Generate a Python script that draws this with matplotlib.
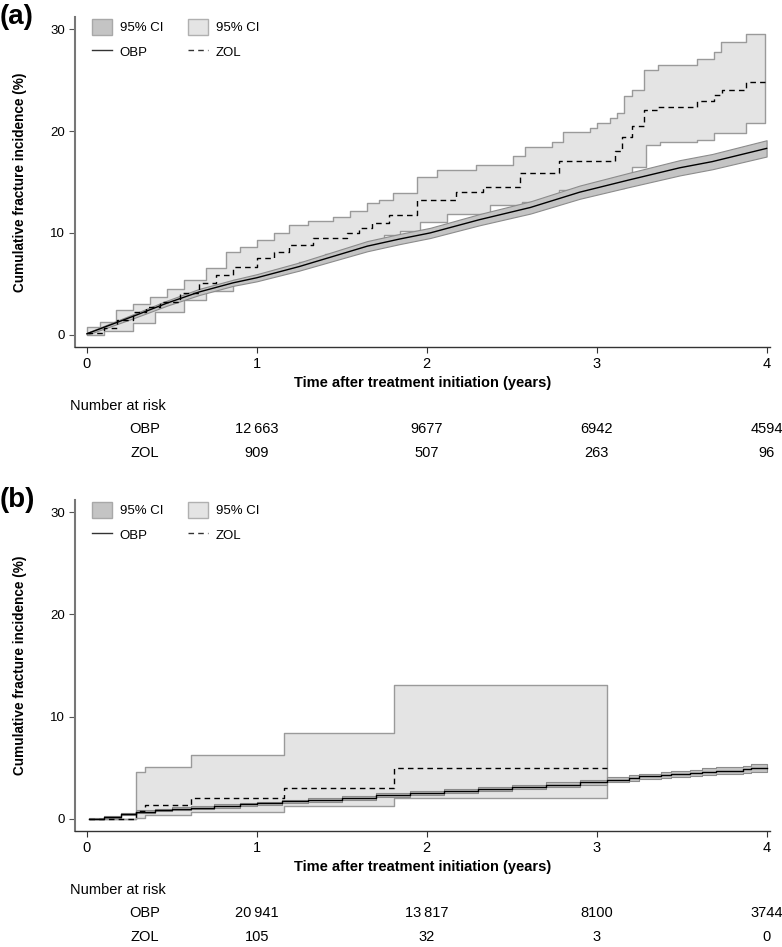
import numpy as np
import matplotlib
matplotlib.use("Agg")
import matplotlib.pyplot as plt
from matplotlib.patches import Patch
from matplotlib.lines import Line2D

# ---- panel (a) data ----
obp_a_t = [0, 0.27, 0.47, 0.66, 0.86, 1.0, 1.25, 1.45, 1.65, 1.84, 2.02, 2.31, 2.61, 2.9, 3.19, 3.49, 3.68, 4.0]
obp_a = [0.1, 1.8, 3.1, 4.2, 5.1, 5.6, 6.7, 7.7, 8.7, 9.4, 10.0, 11.3, 12.5, 14.0, 15.2, 16.4, 17.0, 18.3]
obp_a_lo = [0.0, 1.6, 2.85, 3.9, 4.8, 5.25, 6.3, 7.25, 8.2, 8.9, 9.5, 10.75, 11.9, 13.35, 14.5, 15.65, 16.25, 17.5]
obp_a_hi = [0.2, 2.0, 3.35, 4.5, 5.4, 5.95, 7.1, 8.15, 9.2, 9.9, 10.5, 11.85, 13.1, 14.65, 15.9, 17.15, 17.75, 19.1]

zol_a_t = [0.0, 0.1, 0.18, 0.27, 0.35, 0.43, 0.55, 0.66, 0.76, 0.86, 1.0, 1.1, 1.19, 1.33, 1.53, 1.6,
           1.68, 1.78, 1.94, 2.17, 2.33, 2.55, 2.78, 3.11, 3.15, 3.21, 3.28, 3.36, 3.59, 3.69, 3.74, 3.88, 3.99]
zol_a = [0.2, 0.7, 1.5, 2.2, 2.7, 3.2, 4.1, 5.1, 5.9, 6.7, 7.5, 8.1, 8.8, 9.5, 10.0, 10.5,
         11.0, 11.8, 13.2, 14.0, 14.5, 15.9, 17.1, 18.0, 19.4, 20.5, 22.1, 22.4, 23.0, 23.5, 24.0, 24.8, 24.8]
zol_a_hi_t = [0.0, 0.08, 0.17, 0.27, 0.37, 0.47, 0.57, 0.7, 0.82, 0.9, 1.0, 1.1, 1.19, 1.3, 1.45, 1.55, 1.65,
              1.72, 1.8, 1.94, 2.06, 2.29, 2.51, 2.58, 2.74, 2.8, 2.96, 3.0, 3.08, 3.12, 3.16, 3.21, 3.28,
              3.36, 3.59, 3.69, 3.73, 3.88, 3.99]
zol_a_hi = [0.8, 1.3, 2.4, 3.0, 3.7, 4.5, 5.4, 6.6, 8.1, 8.6, 9.3, 10.0, 10.8, 11.2, 11.6, 12.2, 12.9,
            13.2, 13.9, 15.5, 16.2, 16.7, 17.6, 18.4, 18.9, 19.9, 20.3, 20.8, 21.3, 21.8, 23.4, 24.0, 26.0,
            26.5, 27.1, 27.8, 28.7, 29.5, 29.5]
zol_a_lo_t = [0.0, 0.1, 0.27, 0.4, 0.57, 0.7, 0.86, 1.0, 1.1, 1.25, 1.4, 1.55, 1.65, 1.75, 1.84, 1.96, 2.12,
              2.37, 2.56, 2.78, 2.92, 3.16, 3.21, 3.29, 3.37, 3.59, 3.69, 3.88, 3.99]
zol_a_lo = [0.0, 0.4, 1.2, 2.2, 3.4, 4.3, 5.4, 5.9, 6.4, 7.1, 7.9, 8.3, 9.0, 9.8, 10.2, 11.1, 11.9,
            12.7, 13.0, 14.2, 14.4, 15.7, 16.5, 18.6, 18.9, 19.1, 19.8, 20.8, 20.8]

# ---- panel (b) data ----
obp_b_t = [0.01, 0.1, 0.2, 0.29, 0.4, 0.5, 0.61, 0.75, 0.9, 1.0, 1.15, 1.3, 1.5, 1.7, 1.9, 2.1, 2.3, 2.5,
           2.7, 2.9, 3.06, 3.19, 3.25, 3.38, 3.44, 3.55, 3.62, 3.7, 3.86, 3.91, 4.0]
obp_b = [0.0, 0.2, 0.45, 0.7, 0.85, 1.0, 1.1, 1.25, 1.4, 1.5, 1.7, 1.85, 2.05, 2.3, 2.5, 2.75, 2.95, 3.15,
         3.35, 3.55, 3.8, 4.0, 4.15, 4.3, 4.4, 4.5, 4.6, 4.7, 4.85, 5.0, 5.0]
obp_b_lo = [0.0, 0.1, 0.33, 0.58, 0.72, 0.87, 0.97, 1.1, 1.25, 1.35, 1.55, 1.68, 1.88, 2.12, 2.3, 2.55, 2.75,
            2.95, 3.12, 3.32, 3.55, 3.74, 3.88, 4.02, 4.1, 4.2, 4.28, 4.37, 4.5, 4.62, 4.62]
obp_b_hi = [0.05, 0.3, 0.57, 0.82, 0.98, 1.13, 1.23, 1.4, 1.55, 1.65, 1.85, 2.02, 2.22, 2.48, 2.7, 2.95, 3.15,
            3.35, 3.58, 3.78, 4.05, 4.26, 4.42, 4.58, 4.7, 4.8, 4.92, 5.03, 5.2, 5.38, 5.38]

zol_b_t = [0.01, 0.29, 0.34, 0.61, 1.16, 1.81, 3.06]
zol_b = [0.0, 0.75, 1.3, 2.05, 3.05, 5.0, 5.0]
zol_b_lo = [0.0, 0.1, 0.4, 0.65, 1.2, 2.0, 2.0]
zol_b_hi = [0.0, 4.6, 5.1, 6.2, 8.4, 13.1, 13.1]

# number at risk, at years 1..4
risk_years = [1, 2, 3, 4]
risk_a_obp = ["12\u2009663", "9677", "6942", "4594"]
risk_a_zol = ["909", "507", "263", "96"]
risk_b_obp = ["20\u2009941", "13\u2009817", "8100", "3744"]
risk_b_zol = ["105", "32", "3", "0"]

OBP_FILL, OBP_EDGE = "#c4c4c4", "#8c8c8c"
ZOL_FILL, ZOL_EDGE = "#e4e4e4", "#9a9a9a"
plt.rcParams["font.family"] = ["Liberation Sans", "DejaVu Sans"]


def step_vals(t, v, grid):
    t = np.asarray(t)
    v = np.asarray(v)
    idx = np.clip(np.searchsorted(t, grid, side="right") - 1, 0, len(v) - 1)
    return v[idx]


def draw_panel(ax, label, obp_t, obp, obp_lo, obp_hi, obp_step,
               z_t, z, z_lo_t, z_lo, z_hi_t, z_hi, r_obp, r_zol):
    # ZOL confidence band on a common grid
    grid = np.unique(np.concatenate([z_lo_t, z_hi_t]))
    ax.fill_between(grid, step_vals(z_lo_t, z_lo, grid), step_vals(z_hi_t, z_hi, grid),
                    step="post", facecolor=ZOL_FILL, edgecolor=ZOL_EDGE, linewidth=1.0, zorder=1)
    if obp_step:
        ax.fill_between(obp_t, obp_lo, obp_hi, step="post", facecolor=OBP_FILL,
                        edgecolor=OBP_EDGE, linewidth=0.8, zorder=2)
        ax.step(obp_t, obp, where="post", color="black", lw=1.0, zorder=4)
    else:
        ax.fill_between(obp_t, obp_lo, obp_hi, facecolor=OBP_FILL,
                        edgecolor=OBP_EDGE, linewidth=0.8, zorder=2)
        ax.plot(obp_t, obp, color="black", lw=1.0, zorder=4)
    ax.step(z_t, z, where="post", color="black", lw=1.0, dashes=(4, 3), zorder=3)

    ax.set_xlim(-0.07, 4.02)
    ax.set_ylim(-1.2, 31.2)
    ax.set_xticks([0, 1, 2, 3, 4])
    ax.set_yticks([0, 10, 20, 30])
    for s in ["top", "right"]:
        ax.spines[s].set_visible(False)
    ax.spines["left"].set_color("#777777")
    ax.spines["left"].set_linewidth(1.5)
    ax.spines["bottom"].set_color("#333333")
    ax.spines["bottom"].set_linewidth(1.0)
    ax.tick_params(axis="y", length=4, color="#555555", labelsize=9.5, pad=3)
    ax.tick_params(axis="x", length=4, color="#333333", labelsize=10.5, pad=3)

    ax.text(-0.079, 0.5, "Cumulative fracture incidence (%)", rotation=90, ha="center",
            va="center", fontsize=9.8, fontweight="bold", transform=ax.transAxes)
    ax.text(0.5, -0.109, "Time after treatment initiation (years)", ha="center", va="center",
            fontsize=10.5, fontweight="bold", transform=ax.transAxes)

    tr = ax.get_xaxis_transform()
    ax.text(-0.1, -0.179, "Number at risk", ha="left", va="center", fontsize=10.5, transform=tr)
    ax.text(0.34, -0.248, "OBP", ha="center", va="center", fontsize=10.5, transform=tr)
    ax.text(0.34, -0.321, "ZOL", ha="center", va="center", fontsize=10.5, transform=tr)
    for x, a, b in zip(risk_years, r_obp, r_zol):
        ax.text(x, -0.248, a, ha="center", va="center", fontsize=10.5, transform=tr)
        ax.text(x, -0.321, b, ha="center", va="center", fontsize=10.5, transform=tr)

    handles = [Patch(facecolor=OBP_FILL, edgecolor="#a8a8a8"),
               Line2D([], [], color="#333333", lw=1.0),
               Patch(facecolor=ZOL_FILL, edgecolor="#b0b0b0"),
               Line2D([], [], color="#333333", lw=1.0, dashes=(4, 3))]
    labels = ["95% CI", "OBP", "95% CI", "ZOL"]
    ax.legend(handles, labels, ncol=2, loc="upper left", bbox_to_anchor=(0.0245, 0.994),
              frameon=False, fontsize=9.5, handlelength=1.5, handleheight=1.5,
              handletextpad=0.6, columnspacing=1.9, labelspacing=0.68,
              borderpad=0, borderaxespad=0)

    ax.text(-0.108, 1.0, label, ha="left", va="center", fontsize=20, fontweight="bold",
            transform=ax.transAxes)


fig = plt.figure(figsize=(7.82, 9.47), dpi=100)
ax1 = fig.add_axes([75 / 782, 1 - 347 / 947, 695 / 782, 330 / 947])
ax2 = fig.add_axes([75 / 782, 1 - 831 / 947, 695 / 782, 331 / 947])

draw_panel(ax1, "(a)", obp_a_t, obp_a, obp_a_lo, obp_a_hi, False,
           zol_a_t, zol_a, zol_a_lo_t, zol_a_lo, zol_a_hi_t, zol_a_hi, risk_a_obp, risk_a_zol)
draw_panel(ax2, "(b)", obp_b_t, obp_b, obp_b_lo, obp_b_hi, True,
           zol_b_t, zol_b, zol_b_t, zol_b_lo, zol_b_t, zol_b_hi, risk_b_obp, risk_b_zol)

fig.savefig("out.png", dpi=100)
